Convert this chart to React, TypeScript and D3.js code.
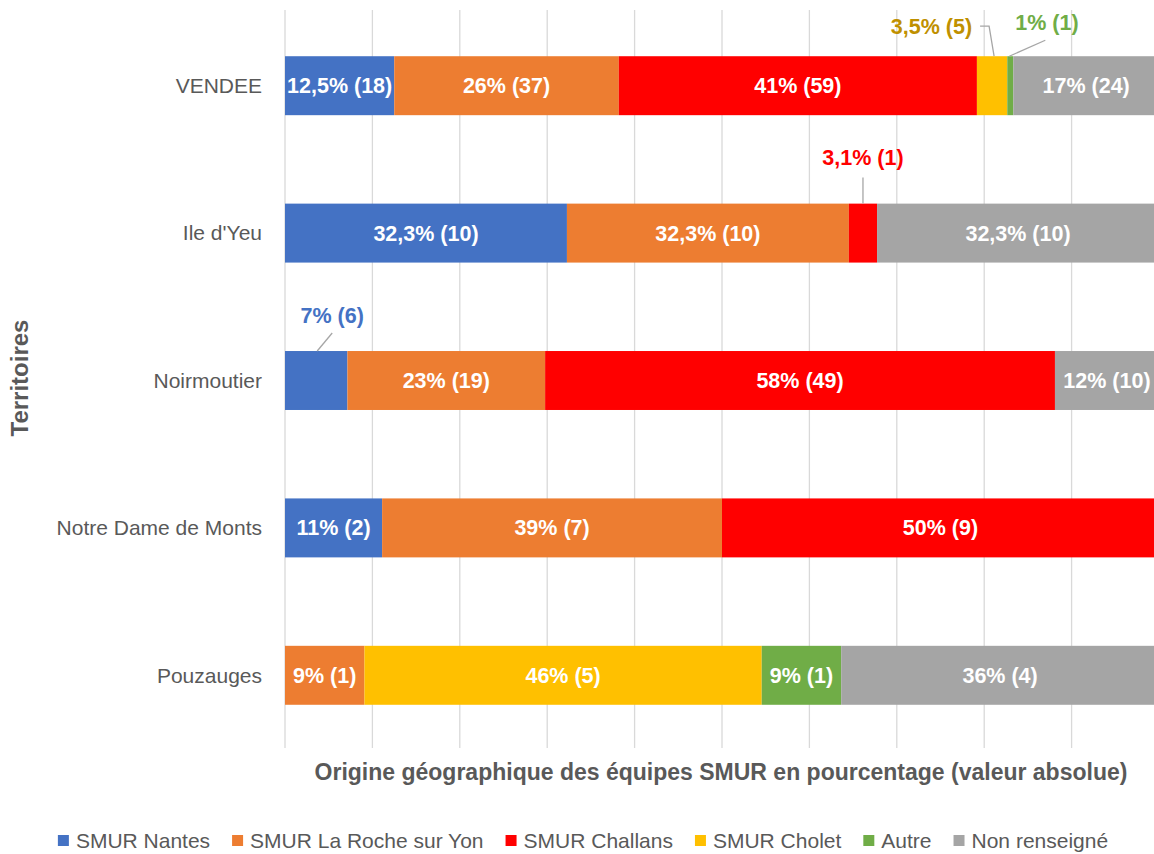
import React, { useEffect, useRef } from "react";
import * as d3 from "d3";

const categories = ["VENDEE", "Ile d'Yeu", "Noirmoutier", "Notre Dame de Monts", "Pouzauges"];
const seriesNames = ["SMUR Nantes", "SMUR La Roche sur Yon", "SMUR Challans", "SMUR Cholet", "Autre", "Non renseigné"];
const seriesColors = ["#4472C4", "#ED7D31", "#FF0000", "#FFC000", "#70AD47", "#A5A5A5"];

// absolute counts (valeur absolue) per territory
const nantesCounts = [18, 10, 6, 2, 0];
const rocheCounts = [37, 10, 19, 7, 1];
const challansCounts = [59, 1, 49, 9, 0];
const choletCounts = [5, 0, 0, 0, 5];
const autreCounts = [1, 0, 0, 0, 1];
const nonRenseigneCounts = [24, 10, 10, 0, 4];

const nantesLabels = ["12,5% (18)", "32,3% (10)", "7% (6)", "11% (2)", ""];
const rocheLabels = ["26% (37)", "32,3% (10)", "23% (19)", "39% (7)", "9% (1)"];
const challansLabels = ["41% (59)", "3,1% (1)", "58% (49)", "50% (9)", ""];
const choletLabels = ["3,5% (5)", "", "", "", "46% (5)"];
const autreLabels = ["1% (1)", "", "", "", "9% (1)"];
const nonRenseigneLabels = ["17% (24)", "32,3% (10)", "12% (10)", "", "36% (4)"];

const xTicks = [0, 0.1, 0.2, 0.3, 0.4, 0.5, 0.6, 0.7, 0.8, 0.9, 1];
const xTitle = "Origine géographique des équipes SMUR en pourcentage (valeur absolue)";
const yTitle = "Territoires";

const allCounts = [nantesCounts, rocheCounts, challansCounts, choletCounts, autreCounts, nonRenseigneCounts];
const allLabels = [nantesLabels, rocheLabels, challansLabels, choletLabels, autreLabels, nonRenseigneLabels];

// labels placed outside their segment (series index - category index) with leader lines
const outsideLabels: Record<string, { dx: number; dy: number; anchor: string; color: string; line: (sx: number, top: number, lx: number, ly: number) => [number, number][] }> = {
  "3-0": { dx: -20, dy: -30, anchor: "end", color: "#BF9000", line: (sx, top, lx, ly) => [[lx + 8, ly], [lx + 17, ly], [sx + 2, top]] },
  "4-0": { dx: 5, dy: -34, anchor: "start", color: "#70AD47", line: (sx, top, lx) => [[sx - 1, top], [lx + 30, top - 16]] },
  "2-1": { dx: 0, dy: -46, anchor: "middle", color: "#FF0000", line: (sx, top) => [[sx, top], [sx, top - 26]] },
  "0-2": { dx: 16, dy: -36, anchor: "middle", color: "#4472C4", line: (sx, top) => [[sx + 1, top], [sx + 16, top - 18]] },
};

const W = 1154;
const H = 854;
const FONT = "'Liberation Sans', Arial, sans-serif";

export default function App() {
  const ref = useRef<SVGSVGElement>(null);

  useEffect(() => {
    const svg = d3.select(ref.current);
    svg.selectAll("*").remove();

    const x = d3.scaleLinear().domain([0, 1]).range([285, 1159]);
    const y = d3.scaleBand<string>().domain(categories).range([12, 749]).paddingInner(0.6).paddingOuter(0.3);

    // gridlines
    svg.append("g")
      .selectAll("line")
      .data(xTicks)
      .join("line")
      .attr("x1", (d) => x(d))
      .attr("x2", (d) => x(d))
      .attr("y1", 10)
      .attr("y2", 748)
      .attr("stroke", "#d9d9d9")
      .attr("stroke-width", 1.3);

    // stacked data (100% stacked)
    const rows = categories.map((c, i) => {
      const o: any = { cat: c };
      seriesNames.forEach((s, j) => (o[s] = allCounts[j][i]));
      return o;
    });
    const stack = d3.stack<any>().keys(seriesNames).offset(d3.stackOffsetExpand)(rows);

    const g = svg.append("g");
    stack.forEach((layer, j) => {
      layer.forEach((seg, i) => {
        const v = seg[1] - seg[0];
        if (v <= 0) return;
        g.append("rect")
          .attr("x", x(seg[0]))
          .attr("y", y(categories[i])!)
          .attr("width", x(seg[1]) - x(seg[0]))
          .attr("height", y.bandwidth())
          .attr("fill", seriesColors[j]);
      });
    });

    // labels
    const lg = svg.append("g").attr("font-family", FONT).attr("font-weight", "bold");
    stack.forEach((layer, j) => {
      layer.forEach((seg, i) => {
        const label = allLabels[j][i];
        if (!label) return;
        const cx = (x(seg[0]) + x(seg[1])) / 2;
        const top = y(categories[i])!;
        const cy = top + y.bandwidth() / 2;
        const key = `${j}-${i}`;
        const out = outsideLabels[key];
        if (out) {
          const lx = cx + out.dx;
          const ly = top + out.dy;
          const pts = out.line(cx, top, lx, ly);
          lg.append("path")
            .attr("d", d3.line()(pts))
            .attr("fill", "none")
            .attr("stroke", "#a6a6a6")
            .attr("stroke-width", 1.3);
          lg.append("text")
            .attr("x", lx)
            .attr("y", ly)
            .attr("dy", "0.35em")
            .attr("text-anchor", out.anchor)
            .attr("fill", out.color)
            .attr("font-size", 21.5)
            .text(label);
        } else {
          lg.append("text")
            .attr("x", cx)
            .attr("y", cy)
            .attr("dy", "0.35em")
            .attr("text-anchor", "middle")
            .attr("fill", "#ffffff")
            .attr("font-size", 21.5)
            .text(label);
        }
      });
    });

    // category labels
    svg.append("g")
      .selectAll("text")
      .data(categories)
      .join("text")
      .attr("x", 262)
      .attr("y", (d) => y(d)! + y.bandwidth() / 2)
      .attr("dy", "0.35em")
      .attr("text-anchor", "end")
      .attr("font-family", FONT)
      .attr("font-size", 21)
      .attr("fill", "#595959")
      .text((d) => d);

    // axis titles
    svg.append("text")
      .attr("x", 721)
      .attr("y", 772)
      .attr("dy", "0.35em")
      .attr("text-anchor", "middle")
      .attr("font-family", FONT)
      .attr("font-weight", "bold")
      .attr("font-size", 23)
      .attr("fill", "#595959")
      .text(xTitle);

    svg.append("text")
      .attr("transform", "translate(20,378) rotate(-90)")
      .attr("dy", "0.35em")
      .attr("text-anchor", "middle")
      .attr("font-family", FONT)
      .attr("font-weight", "bold")
      .attr("font-size", 24)
      .attr("fill", "#595959")
      .text(yTitle);

    // legend
    const leg = svg.append("g").attr("font-family", FONT).attr("font-size", 21).attr("fill", "#595959");
    const items = seriesNames.map((n, i) => {
      const gi = leg.append("g");
      gi.append("rect").attr("width", 11).attr("height", 11).attr("y", -6).attr("fill", seriesColors[i]);
      const t = gi.append("text").attr("x", 18).attr("dy", "0.35em").text(n);
      const w = (t.node() as SVGTextElement).getComputedTextLength();
      return { gi, w: 18 + w };
    });
    const gap = 22;
    const total = d3.sum(items, (d) => d.w) + gap * (items.length - 1);
    let cur = 583 - total / 2;
    items.forEach((it) => {
      it.gi.attr("transform", `translate(${cur},841)`);
      cur += it.w + gap;
    });
  }, []);

  return (
    <svg
      ref={ref}
      width={W}
      height={H}
      style={{ position: "absolute", left: 0, top: 0, background: "#fff" }}
    />
  );
}
